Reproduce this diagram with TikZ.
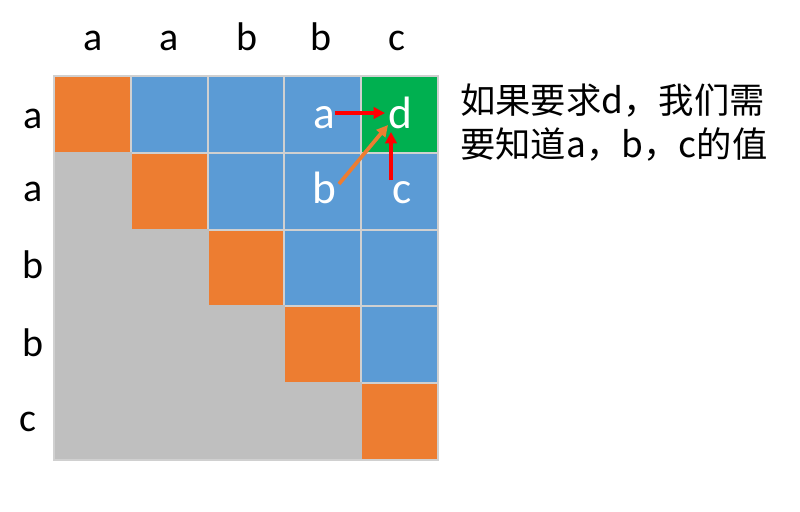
\documentclass[tikz,border=0pt]{standalone}
\usepackage{fontspec}
\setmainfont{Carlito}
\newfontfamily\cjk{Noto Sans CJK SC}
\usetikzlibrary{arrows.meta}
\definecolor{cOr}{HTML}{ED7D31}
\definecolor{cBl}{HTML}{5B9BD5}
\definecolor{cGr}{HTML}{00B050}
\definecolor{cGy}{HTML}{BFBFBF}
\definecolor{cLn}{HTML}{D0D0D0}
\definecolor{cRd}{HTML}{FF0000}
\begin{document}
\begin{tikzpicture}[x=0.75pt,y=-0.75pt,
  cell/.style={draw=cLn, line width=1.5pt, minimum size=57.6pt, inner sep=0pt, outer sep=0pt},
  gcell/.style={cell, draw=cGy, fill=cGy},
  lab/.style={font=\fontsize{30}{36}\selectfont, anchor=base, inner sep=0pt},
  wlab/.style={font=\fontsize{34}{40}\selectfont, anchor=base, inner sep=0pt, text=white},
  arr/.style={line width=2.8pt, -{Triangle[length=8.5pt,width=8.5pt]}}]
\useasboundingbox (0,0) rectangle (800,511);
% cells (upper triangle incl. diagonal)
\foreach \i in {0,...,4}{
  \foreach \j in {\i,...,4}{
    \ifnum\j=\i \def\cc{cOr}\else\def\cc{cBl}\fi
    \ifnum\i=0 \ifnum\j=4 \def\cc{cGr}\fi\fi
    \node[cell, fill=\cc] (c-\i-\j) at ({54+76.8*\j+38.4},{76+76.8*\i+38.4}) {};
  }
}
% gray lower triangle
\foreach \i in {1,...,4}{
  \pgfmathtruncatemacro{\jm}{\i-1}
  \foreach \j in {0,...,\jm}{
    \node[gcell] (c-\i-\j) at ({54+76.8*\j+38.4},{76+76.8*\i+38.4}) {};
  }
}
\draw[cLn, line width=1.5pt] (c-0-0.north west) rectangle (c-4-4.south east);
% headers
\node[lab] (h1) at (93,50) {a};
\node[lab] (h2) at (169,50) {a};
\node[lab] (h3) at (247,50) {b};
\node[lab] (h4) at (321,50) {b};
\node[lab] (h5) at (397,50) {c};
\node[lab] (r1) at (33,128) {a};
\node[lab] (r2) at (33,201) {a};
\node[lab] (r3) at (33,278) {b};
\node[lab] (r4) at (33,356) {b};
\node[lab] (r5) at (28,431) {c};
% cell letters
\node[wlab] (la) at (324,128) {a};
\node[wlab] (ld) at (400,128) {d};
\node[wlab] (lb) at (324,203) {b};
\node[wlab] (lc) at (402,203) {c};
\coordinate (aS) at (335,113);
\coordinate (aE) at (385,113);
\coordinate (bS) at (339,184);
\coordinate (bE) at (388,125);
\coordinate (cS) at (391,180);
\coordinate (cE) at (391,132);
\draw[arr, draw=cRd, fill=cRd] (aS) -- (aE);
\draw[arr, draw=cOr, fill=cOr] (bS) -- (bE);
\draw[arr, draw=cRd, fill=cRd] (cS) -- (cE);
% text
\node[anchor=base west, align=left, inner sep=0pt, font=\cjk\fontsize{26.5}{32.3}\selectfont] (txt) at (460,157)
  {如果要求d，我们需\\要知道a，b，c的值};
\end{tikzpicture}
\end{document}
